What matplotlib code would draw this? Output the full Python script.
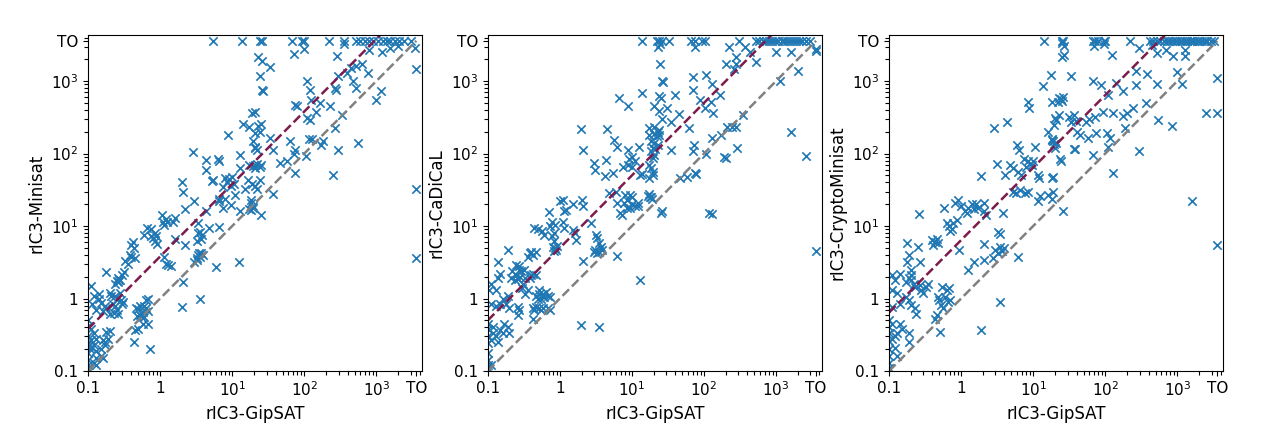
import numpy as np
import matplotlib
matplotlib.use('Agg')
import matplotlib.pyplot as plt
from matplotlib.ticker import LogLocator, NullFormatter

TO = 3600
ticks = [0.1, 1, 10, 100, 1000, TO]
tick_labels = ['0.1', '1', '$10^1$', '$10^2$', '$10^3$', 'TO']
x_label = 'rIC3-GipSAT'
y_labels = ['rIC3-Minisat', 'rIC3-CaDiCaL', 'rIC3-CryptoMinisat']
# slope of the purple reference line (mean speedup) per panel
ratios = [3.8, 5.0, 6.4]

# (GipSAT time, other solver time) pairs
minisat = [
    (5.5, 3600), (13.5, 3600), (24, 3600), (26, 3600), (68, 3600), (92, 3600), (98, 3600),
    (218, 3600), (355, 3600), (530, 3600), (600, 3600), (700, 3600), (800, 3600), (900, 3600),
    (1050, 3600), (1250, 3600), (1400, 3600), (1550, 3600), (1800, 3600), (2100, 3600),
    (2450, 3600), (3000, 3600),
    (355, 3300), (72, 2350), (98, 2800), (285, 2200), (1200, 2500), (1550, 2900), (2000, 3100),
    (3400, 2900), (800, 2700), (3600, 1450), (3600, 33), (3600, 3.6),
    (23, 2150), (26, 1900), (33, 1550), (24, 1170), (26, 760), (27, 740),
    (110, 1000), (122, 750), (126, 550), (165, 500), (147, 380), (74, 470), (80, 450), (230, 450),
    (270, 800), (280, 750), (295, 1170), (390, 1300), (450, 1500), (530, 1600), (640, 1700),
    (760, 1300), (480, 1000), (530, 800), (1170, 720), (1000, 550), (560, 138), (108, 310),
    (120, 295), (340, 340), (270, 225), (295, 112), (250, 50), (170, 130), (180, 150), (130, 160),
    (118, 160), (74, 112), (72, 100), (74, 54), (107, 92), (63, 147), (46, 74), (57, 80),
    (37, 112), (34, 162),
    (19.5, 148), (20.5, 125), (21, 118), (22, 112), (20.5, 190), (18.6, 360), (20.5, 375),
    (14, 260), (17, 235), (23, 240), (25.5, 260), (24, 200), (8.7, 178),
    (4.4, 81), (4.4, 59), (6.4, 85), (6.6, 78), (5.5, 43), (5.2, 42), (13, 96), (13, 63),
    (17, 70), (19.5, 68), (21, 70), (22, 72), (25, 70), (20.5, 63), (24, 65),
    (8, 46), (9, 44), (10, 48), (8.5, 40), (9.5, 36), (10.5, 38), (7.5, 35), (11, 27), (8, 24),
    (6.6, 24), (6.6, 22), (9.5, 19.5), (7.5, 17.5), (15, 32), (16.5, 43), (20.5, 36), (22, 32),
    (19, 38), (24, 43), (18.5, 23), (18, 21), (19.5, 19), (17, 17), (18, 16.5), (19.5, 17.5),
    (25, 14), (37, 28), (13, 16),
    (2.9, 105), (2.0, 40), (2.1, 30), (3.0, 22),
    (2.2, 17), (4.4, 16), (1.05, 14.3), (1.1, 11.5), (1.15, 10.5), (1.25, 11.5), (1.5, 11.5),
    (1.6, 13), (1.2, 12.5),
    (0.65, 9.3), (0.75, 9), (0.85, 8), (0.6, 7.6), (0.75, 7.3), (0.8, 6.8), (0.88, 7.4),
    (0.85, 6.2), (0.9, 5.6),
    (0.4, 5.5), (0.42, 6), (0.43, 5), (0.38, 4), (0.4, 3.7), (0.45, 3.6),
    (3.4, 11), (3.6, 8.4), (3.8, 7.6), (3.4, 8), (3.7, 6.7), (3.3, 6.2), (4.8, 9.5), (6.5, 9.7),
    (1.6, 6.6), (2.2, 5.5),
    (1.15, 3.8), (1.2, 3), (1.3, 2.9), (1.4, 2.8),
    (3.0, 3.2), (3.2, 3.6), (3.4, 4.0), (3.5, 4.2), (3.7, 4.3), (3.9, 4.0), (3.3, 3.4), (3.6, 3.8),
    (6, 2.75), (12.6, 3.2), (2.1, 1.7), (2.0, 0.77), (3.6, 1.0), (0.72, 0.2), (0.43, 0.25),
    (0.46, 0.75), (0.5, 0.72), (0.52, 0.6), (0.55, 0.58), (0.48, 0.58), (0.57, 0.65),
    (0.63, 0.75), (0.67, 0.68), (0.6, 0.8), (0.52, 0.8), (0.63, 0.95), (0.67, 1.0), (0.6, 0.55),
    (0.57, 0.45), (0.67, 0.45), (0.5, 0.38), (0.45, 0.37),
    (0.11, 1.5), (0.12, 1.1), (0.14, 1.15), (0.115, 0.85), (0.15, 0.87), (0.17, 0.8),
    (0.13, 0.7), (0.16, 0.68), (0.18, 0.75), (0.14, 1.0), (0.18, 2.3), (0.2, 1.2),
    (0.21, 1.1), (0.24, 1.1), (0.25, 1.0), (0.28, 1.2), (0.29, 0.95), (0.22, 0.85), (0.24, 0.8),
    (0.25, 0.7), (0.23, 0.63), (0.2, 0.62), (0.26, 0.62), (0.3, 0.85), (0.31, 0.9),
    (0.26, 1.9), (0.27, 1.8), (0.25, 1.75), (0.24, 1.6), (0.26, 1.7), (0.28, 1.8), (0.3, 2.1),
    (0.32, 2.3), (0.33, 3.3), (0.36, 3.0),
    (0.11, 0.38), (0.12, 0.33), (0.13, 0.28), (0.11, 0.27), (0.12, 0.23), (0.107, 0.2),
    (0.115, 0.21), (0.13, 0.19), (0.15, 0.2), (0.16, 0.27), (0.17, 0.25), (0.18, 0.35),
    (0.2, 0.36), (0.19, 0.28), (0.17, 0.23), (0.15, 0.16), (0.16, 0.15), (0.13, 0.15),
    (0.1, 0.5), (0.1, 0.42), (0.1, 0.3), (0.1, 0.25), (0.1, 0.22), (0.1, 0.18), (0.1, 0.14),
    (0.1, 0.12), (0.1, 0.11), (0.12, 0.13), (0.13, 0.12),
]

cadical = [
    (14, 3600), (22, 3600), (24, 3600), (26, 3600), (33, 3600), (67, 3600), (75, 3600),
    (93, 3600), (103, 3600), (310, 3600), (520, 3600), (580, 3600), (650, 3600), (720, 3600),
    (800, 3600), (890, 3600), (980, 3600), (1080, 3600), (1200, 3600), (1300, 3600),
    (1400, 3600), (1550, 3600), (1700, 3600), (1900, 3600), (2100, 3600), (2300, 3600),
    (2600, 3600), (3000, 3600),
    (23, 3000), (24.5, 3300), (75, 3000), (220, 3000), (370, 3000), (440, 2550), (275, 2150),
    (520, 1850), (1000, 2500), (1600, 2500), (3600, 2800), (3600, 2600),
    (24.5, 1700), (26, 1000), (27, 980), (200, 1700), (275, 1700), (260, 1450), (1150, 1000),
    (2000, 1400),
    (14, 680), (6.6, 590), (8.7, 450), (24, 620), (25, 580), (40, 650), (71, 1150), (71, 760),
    (108, 1230), (130, 910), (165, 650), (89, 550), (125, 510), (105, 425), (132, 360),
    (20, 450), (24, 390), (31, 425), (45, 350), (35, 270), (26, 300), (62, 225),
    (4.5, 220), (5.7, 155), (6.2, 125), (8.7, 112), (12.7, 125), (9, 85), (10, 90), (11, 80),
    (4.4, 81), (7.5, 66), (5.4, 54), (4.2, 49), (8.7, 70), (10, 66),
    (17.5, 225), (20.5, 230), (24, 215), (23, 200), (17.5, 182), (20, 185), (22, 175),
    (24, 182), (18.5, 148), (20.5, 140), (19.5, 118), (21, 115), (18.5, 108), (23, 130),
    (20.5, 96), (19.5, 86), (17.5, 69), (18.5, 63), (19.5, 55), (19.5, 50), (17.5, 46),
    (14, 53), (13, 50),
    (35, 112), (73, 131), (70, 108), (107, 100), (131, 166), (173, 182), (210, 230), (245, 235),
    (275, 230), (345, 345), (290, 118), (190, 91), (200, 88), (58, 48), (74, 54), (78, 52),
    (47, 46), (117, 15), (128, 14.5), (1600, 200), (2600, 93), (3600, 4.6),
    (26, 16), (17.5, 28), (16.5, 26), (18.5, 25),
    (1.95, 220), (2.1, 112), (2.95, 74), (3.1, 60),
    (4.8, 29), (6.3, 21), (6.9, 15), (7.3, 14), (7.7, 21), (8, 27), (8.6, 23), (9.3, 27),
    (10, 20), (10, 25), (11, 19), (12, 21), (9.3, 17.5), (8.5, 18), (18, 25), (19, 24), (25, 15),
    (6, 30), (12, 19),
    (1, 22), (1.1, 23), (1.15, 16), (1.2, 16.5), (1.5, 20), (2, 23), (2.1, 19), (0.71, 15.5),
    (0.44, 9.3), (0.49, 9), (0.57, 8.5), (0.6, 7.5), (0.73, 10), (0.77, 11.5), (0.86, 10.5),
    (0.84, 8), (0.79, 7.2), (0.84, 6.2), (1.1, 11.5), (1.15, 9.3), (1.5, 8.8), (1.6, 8),
    (1.65, 6.5),
    (0.8, 5.2), (0.85, 5), (0.88, 4.7), (0.82, 4.5), (0.9, 5.3),
    (0.19, 4.7), (0.38, 4.2), (0.4, 4.4), (0.42, 4.0), (0.47, 4.4), (0.36, 3.8), (0.14, 3.2),
    (0.25, 2.9), (0.27, 2.8), (0.27, 2.5), (0.29, 2.4), (0.32, 2.5), (0.22, 2.4), (0.25, 2.1),
    (0.21, 1.9), (0.24, 1.8), (0.26, 1.85), (0.28, 2.0), (0.33, 1.9), (0.31, 1.6), (0.38, 1.95),
    (0.4, 2.1), (0.42, 2.2), (0.47, 2.1),
    (0.36, 1.3), (0.33, 1.17), (0.3, 1.4),
    (0.15, 2.2), (0.14, 1.9), (0.11, 1.6), (0.105, 1.3), (0.13, 1.3),
    (0.11, 0.85), (0.13, 0.8), (0.15, 0.85), (0.18, 0.85), (0.19, 1.1), (0.2, 0.73), (0.16, 1.0),
    (0.26, 0.77), (0.27, 0.7), (0.26, 0.6),
    (0.47, 1.1), (0.52, 1.17), (0.58, 1.17), (0.65, 1.25), (0.68, 1.1), (0.49, 1.0), (0.55, 1.0),
    (0.6, 1.05), (0.72, 1.05), (0.52, 1.3),
    (0.42, 0.73), (0.47, 0.77), (0.52, 0.73), (0.58, 0.73), (0.44, 0.7), (0.55, 0.7),
    (0.68, 0.73), (0.74, 0.7), (0.42, 0.53),
    (0.17, 0.45), (0.19, 0.41), (0.2, 0.33), (0.16, 0.33), (0.12, 0.33), (0.13, 0.3),
    (0.14, 0.25), (0.11, 0.27), (0.15, 0.37), (0.12, 0.4),
    (0.1, 0.45), (0.1, 0.38), (0.1, 0.3), (0.1, 0.24), (0.1, 0.18), (0.1, 0.14), (0.1, 0.12),
    (0.1, 0.11), (0.11, 0.12),
    (1.95, 0.43), (3.5, 0.41), (13, 1.8), (6.2, 3.9), (2.1, 3.3),
    (3.15, 7.6), (3.3, 6.8), (3.5, 5.8), (3.7, 5.2), (3.1, 4.7), (3, 4.4), (3.9, 4.7), (3.5, 4.4),
    (3.3, 4.2), (2.7, 11),
]

cryptominisat = [
    (14, 3600), (25.5, 3600), (26, 3600), (67, 3600), (72, 3600), (80, 3600), (96, 3600),
    (100, 3600), (220, 3600), (415, 3600), (460, 3600), (520, 3600), (580, 3600), (665, 3600),
    (720, 3600), (780, 3600), (850, 3600), (920, 3600), (1000, 3600), (1080, 3600),
    (1170, 3600), (1270, 3600), (1370, 3600), (1480, 3600), (1600, 3600), (1730, 3600),
    (1870, 3600), (2000, 3600), (2200, 3600), (2400, 3600), (2600, 3600), (2900, 3600),
    (3200, 3600),
    (25.5, 3400), (27, 3100), (70, 3100), (96, 3300), (290, 2900), (440, 3200), (25.5, 2150),
    (27, 2300), (124, 2300), (520, 2450), (700, 2700), (870, 2200), (1300, 2700), (1300, 2200),
    (17.5, 1230), (13.8, 850), (33, 1170), (68, 1000), (87, 890), (140, 930), (175, 720),
    (110, 650), (270, 1380), (380, 1250), (270, 890), (520, 910), (1180, 910), (1000, 1350),
    (3600, 1120), (2500, 360), (3600, 360), (540, 295), (850, 240), (295, 110), (128, 54),
    (1600, 22), (3600, 5.5),
    (23, 590), (24.5, 560), (26, 600), (22, 520), (25, 540), (8.5, 520), (8.8, 430), (18, 520),
    (4.4, 270),
    (20, 310), (21, 290), (19.5, 250), (23, 340),
    (31, 325), (37, 340), (39, 280), (34, 270), (55, 275), (60, 300), (72, 320), (93, 380),
    (129, 360), (178, 330), (200, 360), (245, 425), (370, 500), (186, 225), (118, 162),
    (110, 125), (105, 190), (74, 190), (57, 162), (44, 182), (40, 200), (38, 115),
    (16, 200), (18, 155), (19, 150), (19.5, 135), (20, 120), (18.5, 160), (21, 140),
    (10.5, 125), (5.9, 132), (6.4, 112), (23.5, 85), (24.5, 80), (68, 96),
    (7.4, 85), (8.5, 80), (9, 73), (9.6, 70), (8, 66), (10, 78),
    (4.8, 69), (5.2, 63), (4.1, 50), (6.2, 56), (6.8, 50), (11.7, 50), (12.2, 46), (18, 46),
    (19, 47), (37, 117),
    (1.9, 49), (2.9, 225), (3.1, 71),
    (5.2, 30), (5.8, 29), (6.5, 31), (7.6, 29), (8.5, 30), (12.3, 26), (11.5, 22), (16, 27),
    (18, 24), (19, 30), (26, 16),
    (0.57, 18), (0.83, 21), (0.9, 23), (1.0, 19), (1.13, 16), (1.2, 15), (1.25, 18), (1.4, 20),
    (1.5, 17), (1.6, 20), (1.7, 18), (2.1, 16), (2.2, 14), (2.1, 21), (3.8, 15), (0.26, 14.8),
    (0.63, 11), (0.67, 10), (0.78, 11), (0.87, 12.3), (0.74, 9), (0.7, 8.5),
    (0.39, 6.4), (0.44, 6.1), (0.48, 5.8), (0.41, 5.5), (0.46, 6.6),
    (0.18, 5.9), (0.25, 5.2), (0.27, 3.2), (0.19, 4), (0.18, 3.2),
    (0.95, 4.7), (2.1, 5.6), (1.5, 3.2), (1.25, 2.45), (2.1, 3.4),
    (3.3, 8.3), (3.5, 7.8), (3, 4.7), (3.3, 4.2), (3.5, 5.2), (3.7, 4.5), (3.9, 5), (2.8, 3.6),
    (6.1, 3.8),
    (0.11, 2.1), (0.14, 2.2), (0.12, 1.8), (0.11, 1.3), (0.13, 1.2), (0.17, 1.7), (0.19, 1.9),
    (0.2, 1.8), (0.22, 1.6), (0.23, 1.45), (0.2, 2.1), (0.27, 1.55), (0.28, 1.3), (0.3, 1.2),
    (0.33, 1.45), (0.35, 1.6), (0.2, 2.5),
    (0.17, 1.05), (0.19, 0.95), (0.11, 0.77), (0.14, 0.85), (0.2, 0.82), (0.23, 0.73),
    (0.24, 0.62),
    (0.48, 1.05), (0.5, 0.95), (0.53, 0.81), (0.6, 1.05), (0.63, 1.3), (0.67, 1.4), (0.56, 0.73),
    (0.46, 0.59), (0.44, 0.53), (0.54, 1.45), (0.65, 0.9), (0.7, 0.95),
    (0.51, 0.35), (1.9, 0.37), (3.5, 0.9),
    (0.11, 0.45), (0.14, 0.45), (0.19, 0.33), (0.19, 0.25), (0.12, 0.21), (0.13, 0.16),
    (0.15, 0.38), (0.12, 0.3), (0.11, 0.28), (0.13, 0.34),
    (0.1, 0.5), (0.1, 0.4), (0.1, 0.33), (0.1, 0.26), (0.1, 0.2), (0.1, 0.16), (0.1, 0.13),
    (0.1, 0.11),
]

panels = [minisat, cadical, cryptominisat]
lefts = [0.0695, 0.385, 0.7017]

fig = plt.figure(figsize=(12.67, 4.42), dpi=100)

for data, ylab, r, left in zip(panels, y_labels, ratios, lefts):
    ax = fig.add_axes([left, 0.1606, 0.2636, 0.760])
    pts = np.array(data)
    ax.scatter(pts[:, 0], pts[:, 1], marker='x', color='tab:blue', s=36, linewidths=1.2)
    ax.plot([0.1, TO], [0.1, TO], '--', color='gray', lw=1.8)
    ax.plot([0.1, TO], [0.1 * r, TO * r], '--', color='#7b1c4c', lw=1.8)
    ax.set_xscale('log')
    ax.set_yscale('log')
    ax.set_xlim(0.1, TO * 1.2)
    ax.set_ylim(0.1, TO * 1.2)
    ax.set_xticks(ticks, tick_labels)
    ax.set_yticks(ticks, tick_labels)
    for axis in (ax.xaxis, ax.yaxis):
        axis.set_minor_locator(LogLocator(base=10, subs=np.arange(2, 10), numticks=50))
        axis.set_minor_formatter(NullFormatter())
    ax.tick_params(labelsize=11)
    ax.tick_params(which='minor', width=0.8, length=3)
    ax.set_xlabel(x_label, fontsize=12)
    ax.set_ylabel(ylab, fontsize=12)

fig.savefig('out.png', dpi=100)
